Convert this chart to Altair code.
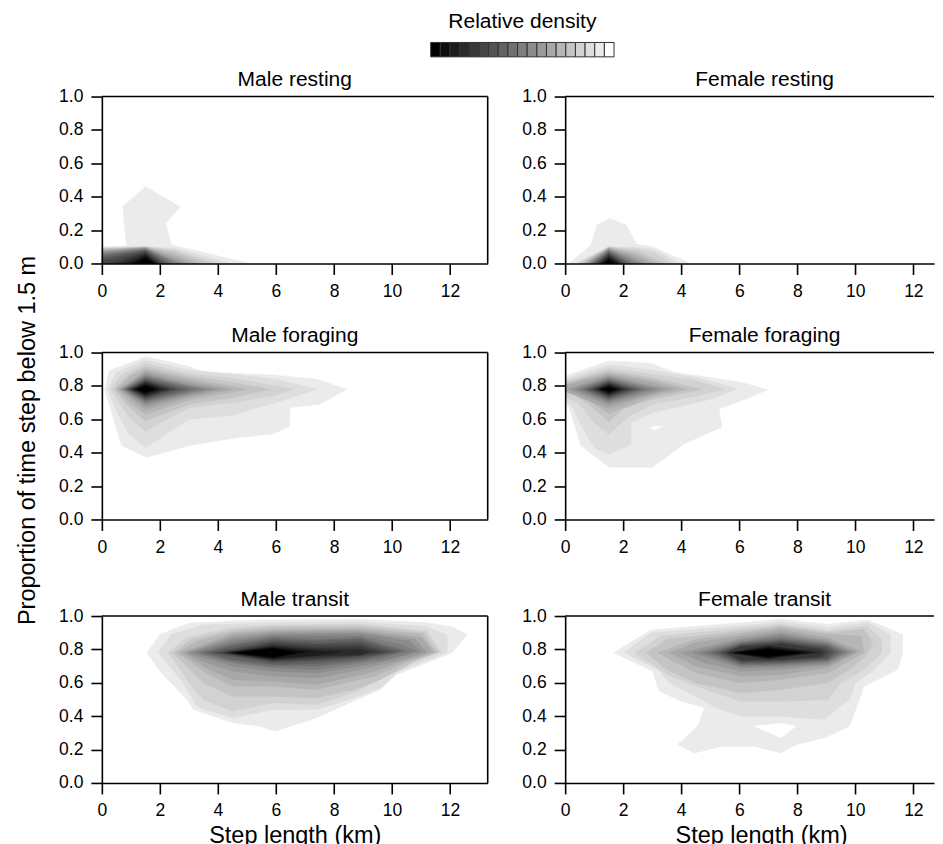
import altair as alt
import pandas as pd

FONT = "Liberation Sans"

# grey levels of the density scale, darkest (highest density) to white
GRAYS = ["#000000", "#0e0e0e", "#1c1c1c", "#2a2a2a", "#383838", "#464646",
         "#545454", "#626262", "#707070", "#7e7e7e", "#8c8c8c", "#9a9a9a",
         "#a8a8a8", "#b6b6b6", "#c4c4c4", "#d2d2d2", "#dedede", "#ebebeb",
         "#ffffff"]

X_TICKS = [0, 2, 4, 6, 8, 10, 12]
Y_TICKS = [0.0, 0.2, 0.4, 0.6, 0.8, 1.0]

TITLES = ["Male resting", "Female resting", "Male foraging",
          "Female foraging", "Male transit", "Female transit"]

# contour polygons: (grey level index, [(step length km, proportion), ...])
MALE_RESTING = [
    (17, [(0, 0), (0, 0.1), (0.85, 0.105), (0.72, 0.34), (1.5, 0.46), (2.7, 0.34),
          (2.2, 0.24), (2.4, 0.11), (3.15, 0.08), (5.1, 0)]),
    (16, [(0, 0), (0, 0.095), (1.5, 0.102), (2.5, 0.09), (3.3, 0.055), (4.4, 0)]),
    (15, [(0, 0), (0, 0.09), (1.5, 0.1), (2.5, 0.08), (3.2, 0.045), (4.0, 0)]),
    (14, [(0, 0), (0, 0.087), (1.5, 0.098), (2.5, 0.07), (3.7, 0)]),
    (13, [(0, 0), (0, 0.083), (1.5, 0.096), (2.4, 0.06), (3.4, 0)]),
    (12, [(0, 0), (0, 0.078), (1.5, 0.094), (2.3, 0.05), (3.15, 0)]),
    (11, [(0, 0), (0, 0.072), (1.5, 0.092), (2.25, 0.042), (2.95, 0)]),
    (10, [(0, 0), (0, 0.066), (1.5, 0.09), (2.2, 0.035), (2.75, 0)]),
    (9, [(0, 0), (0, 0.058), (1.5, 0.087), (2.6, 0)]),
    (8, [(0, 0), (0, 0.05), (1.5, 0.083), (2.45, 0)]),
    (7, [(0, 0), (0, 0.04), (1.5, 0.079), (2.3, 0)]),
    (6, [(0, 0), (0, 0.028), (1.5, 0.074), (2.2, 0)]),
    (5, [(0, 0), (0, 0.012), (1.5, 0.068), (2.1, 0)]),
    (4, [(0.3, 0), (1.5, 0.062), (2.0, 0)]),
    (3, [(0.6, 0), (1.5, 0.055), (1.95, 0)]),
    (2, [(0.85, 0), (1.5, 0.048), (1.9, 0)]),
    (1, [(1.05, 0), (1.5, 0.04), (1.85, 0)]),
    (0, [(1.2, 0), (1.5, 0.03), (1.78, 0)]),
]

FEMALE_RESTING = [
    (17, [(0.14, 0), (0.89, 0.11), (1.1, 0.23), (1.52, 0.27), (2.1, 0.23), (2.47, 0.114),
          (2.96, 0.104), (3.53, 0.06), (4.2, 0.01), (4.2, 0)]),
    (16, [(0.35, 0), (1.5, 0.1), (2.5, 0.095), (3.0, 0.085), (3.5, 0.045), (3.95, 0)]),
    (15, [(0.45, 0), (1.5, 0.098), (2.5, 0.085), (3.1, 0.06), (3.7, 0)]),
    (14, [(0.55, 0), (1.5, 0.096), (2.5, 0.07), (3.45, 0)]),
    (13, [(0.62, 0), (1.5, 0.093), (2.4, 0.06), (3.2, 0)]),
    (12, [(0.7, 0), (1.5, 0.09), (2.3, 0.05), (3.0, 0)]),
    (11, [(0.77, 0), (1.5, 0.087), (2.25, 0.04), (2.8, 0)]),
    (10, [(0.83, 0), (1.5, 0.083), (2.2, 0.03), (2.6, 0)]),
    (9, [(0.89, 0), (1.5, 0.079), (2.45, 0)]),
    (8, [(0.95, 0), (1.5, 0.074), (2.3, 0)]),
    (7, [(1.0, 0), (1.5, 0.068), (2.2, 0)]),
    (6, [(1.05, 0), (1.5, 0.062), (2.1, 0)]),
    (5, [(1.1, 0), (1.5, 0.056), (2.0, 0)]),
    (4, [(1.15, 0), (1.5, 0.05), (1.95, 0)]),
    (3, [(1.2, 0), (1.5, 0.043), (1.9, 0)]),
    (2, [(1.25, 0), (1.5, 0.036), (1.83, 0)]),
    (1, [(1.3, 0), (1.5, 0.028), (1.76, 0)]),
    (0, [(1.36, 0), (1.5, 0.02), (1.68, 0)]),
]

MALE_FORAGING = [
    (17, [(0.1, 0.78), (0.25, 0.89), (1.52, 0.976), (2.92, 0.92), (3.6, 0.88), (5.9, 0.866),
          (7.4, 0.84), (8.44, 0.78), (7.5, 0.69), (6.48, 0.67), (6.46, 0.557), (5.9, 0.513),
          (4.53, 0.487), (3.03, 0.443), (1.54, 0.373), (0.68, 0.443)]),
    (16, [(0.2, 0.78), (0.5, 0.88), (1.5, 0.955), (3.0, 0.895), (4.5, 0.87), (6.0, 0.84),
          (7.4, 0.78), (6.0, 0.7), (4.5, 0.625), (3.0, 0.6), (1.5, 0.43), (0.9, 0.52), (0.5, 0.65)]),
    (15, [(0.3, 0.78), (0.7, 0.87), (1.5, 0.935), (3.0, 0.875), (4.5, 0.845), (6.0, 0.8),
          (6.6, 0.78), (6.0, 0.745), (4.5, 0.7), (3.0, 0.67), (1.5, 0.53), (1.0, 0.6), (0.6, 0.7)]),
    (14, [(0.42, 0.78), (0.9, 0.865), (1.5, 0.915), (3.0, 0.86), (4.5, 0.82), (5.8, 0.78),
          (4.5, 0.73), (3.0, 0.69), (1.5, 0.59), (0.9, 0.68)]),
    (13, [(0.5, 0.78), (1.0, 0.86), (1.5, 0.9), (3.0, 0.845), (5.0, 0.78), (3.0, 0.715),
          (1.5, 0.63), (0.95, 0.7)]),
    (12, [(0.58, 0.78), (1.5, 0.888), (3.0, 0.83), (4.5, 0.78), (3.0, 0.73), (1.5, 0.655)]),
    (11, [(0.64, 0.78), (1.5, 0.876), (3.0, 0.815), (4.1, 0.78), (3.0, 0.743), (1.5, 0.675)]),
    (10, [(0.7, 0.78), (1.5, 0.866), (3.0, 0.8), (3.8, 0.78), (3.0, 0.755), (1.5, 0.69)]),
    (9, [(0.75, 0.78), (1.5, 0.858), (3.5, 0.78), (1.5, 0.7)]),
    (8, [(0.8, 0.78), (1.5, 0.85), (3.2, 0.78), (1.5, 0.708)]),
    (7, [(0.85, 0.78), (1.5, 0.843), (2.95, 0.78), (1.5, 0.716)]),
    (6, [(0.9, 0.78), (1.5, 0.836), (2.7, 0.78), (1.5, 0.723)]),
    (5, [(0.95, 0.78), (1.5, 0.829), (2.5, 0.78), (1.5, 0.73)]),
    (4, [(1.0, 0.78), (1.5, 0.824), (2.35, 0.78), (1.5, 0.735)]),
    (3, [(1.05, 0.78), (1.5, 0.819), (2.2, 0.78), (1.5, 0.741)]),
    (2, [(1.1, 0.78), (1.5, 0.813), (2.05, 0.78), (1.5, 0.747)]),
    (1, [(1.16, 0.78), (1.5, 0.806), (1.93, 0.78), (1.5, 0.754)]),
    (0, [(1.23, 0.78), (1.5, 0.798), (1.8, 0.78), (1.5, 0.762)]),
]

FEMALE_FORAGING = [
    (17, [(0, 0.86), (1.52, 0.949), (2.96, 0.936), (3.76, 0.882), (6.06, 0.822), (6.98, 0.777),
          (6.06, 0.71), (5.3, 0.663), (5.4, 0.553), (4.1, 0.453), (3.01, 0.313), (1.52, 0.313),
          (0.54, 0.443), (0.14, 0.67), (0, 0.69)]),
    (18, [(2.95, 0.552), (3.35, 0.56), (3.05, 0.535)]),
    (16, [(0, 0.845), (1.5, 0.925), (3.0, 0.895), (4.5, 0.85), (5.95, 0.785), (5.0, 0.72),
          (4.0, 0.68), (3.0, 0.64), (2.27, 0.58), (2.27, 0.45), (1.5, 0.39), (1.0, 0.43),
          (0.6, 0.55), (0.2, 0.69), (0, 0.71)]),
    (15, [(0, 0.83), (1.5, 0.905), (3.0, 0.87), (4.5, 0.83), (5.5, 0.78), (4.5, 0.74),
          (3.0, 0.69), (2.2, 0.62), (1.5, 0.51), (1.0, 0.58), (0.45, 0.7), (0, 0.735)]),
    (14, [(0, 0.82), (1.5, 0.89), (3.0, 0.85), (4.7, 0.78), (3.0, 0.72), (2.0, 0.665),
          (1.5, 0.585), (0.9, 0.68), (0.3, 0.75), (0, 0.755)]),
    (13, [(0, 0.81), (1.5, 0.878), (3.0, 0.835), (4.2, 0.78), (3.0, 0.735), (1.5, 0.635),
          (0.6, 0.74), (0, 0.765)]),
    (12, [(0, 0.8), (1.5, 0.868), (3.0, 0.82), (3.8, 0.78), (3.0, 0.75), (1.5, 0.665), (0, 0.77)]),
    (11, [(0.1, 0.78), (1.5, 0.86), (3.5, 0.78), (1.5, 0.685)]),
    (10, [(0.3, 0.78), (1.5, 0.852), (3.2, 0.78), (1.5, 0.698)]),
    (9, [(0.45, 0.78), (1.5, 0.845), (2.95, 0.78), (1.5, 0.708)]),
    (8, [(0.6, 0.78), (1.5, 0.838), (2.75, 0.78), (1.5, 0.716)]),
    (7, [(0.72, 0.78), (1.5, 0.831), (2.55, 0.78), (1.5, 0.724)]),
    (6, [(0.82, 0.78), (1.5, 0.825), (2.4, 0.78), (1.5, 0.73)]),
    (5, [(0.92, 0.78), (1.5, 0.82), (2.25, 0.78), (1.5, 0.736)]),
    (4, [(1.0, 0.78), (1.5, 0.815), (2.12, 0.78), (1.5, 0.742)]),
    (3, [(1.07, 0.78), (1.5, 0.81), (2.02, 0.78), (1.5, 0.748)]),
    (2, [(1.14, 0.78), (1.5, 0.804), (1.92, 0.78), (1.5, 0.754)]),
    (1, [(1.21, 0.78), (1.5, 0.797), (1.83, 0.78), (1.5, 0.761)]),
    (0, [(1.28, 0.78), (1.5, 0.79), (1.73, 0.78), (1.5, 0.768)]),
]

MALE_TRANSIT = [
    (17, [(1.56, 0.78), (2.0, 0.89), (3.03, 0.958), (5.45, 0.976), (8.9, 0.98), (11.2, 0.96),
          (12.06, 0.936), (12.6, 0.89), (12.06, 0.78), (11.2, 0.72), (10.16, 0.65), (9.6, 0.56),
          (8.67, 0.49), (7.4, 0.39), (5.97, 0.31), (5.45, 0.34), (4.53, 0.36), (3.15, 0.44),
          (2.98, 0.49), (2.0, 0.67)]),
    (16, [(1.95, 0.78), (2.4, 0.89), (3.5, 0.945), (5.9, 0.96), (8.9, 0.965), (11.2, 0.935),
          (11.9, 0.885), (11.9, 0.78), (11.2, 0.735), (10.2, 0.665), (9.6, 0.57), (8.7, 0.51),
          (7.4, 0.44), (5.9, 0.44), (4.5, 0.39), (3.3, 0.455), (2.8, 0.6)]),
    (15, [(2.3, 0.78), (2.9, 0.87), (4.5, 0.93), (5.9, 0.945), (8.9, 0.95), (11.2, 0.91),
          (11.7, 0.785), (10.9, 0.74), (9.8, 0.64), (8.8, 0.55), (7.4, 0.47), (5.9, 0.48),
          (4.5, 0.43), (3.5, 0.5), (3.1, 0.58)]),
    (14, [(2.45, 0.78), (3.1, 0.86), (4.5, 0.915), (5.9, 0.935), (8.9, 0.94), (11.1, 0.9),
          (11.6, 0.785), (10.8, 0.73), (9.6, 0.62), (8.7, 0.56), (7.4, 0.51), (5.9, 0.52),
          (4.5, 0.52), (3.5, 0.6)]),
    (13, [(2.6, 0.78), (3.3, 0.85), (4.5, 0.9), (5.9, 0.92), (8.9, 0.925), (11.0, 0.89),
          (11.5, 0.785), (10.6, 0.73), (9.4, 0.64), (7.4, 0.56), (5.9, 0.58), (4.5, 0.58),
          (3.6, 0.66)]),
    (12, [(2.75, 0.78), (4.5, 0.89), (5.9, 0.91), (8.9, 0.915), (11.0, 0.87), (11.4, 0.785),
          (10.4, 0.73), (9.2, 0.66), (7.4, 0.59), (5.9, 0.61), (4.5, 0.62), (3.6, 0.69)]),
    (11, [(2.9, 0.78), (4.5, 0.875), (5.9, 0.9), (8.9, 0.905), (10.8, 0.86), (11.2, 0.785),
          (10.2, 0.73), (8.9, 0.68), (7.4, 0.63), (5.9, 0.64), (4.5, 0.67), (3.6, 0.72)]),
    (10, [(3.0, 0.78), (4.5, 0.86), (5.9, 0.89), (8.9, 0.895), (10.6, 0.85), (11.0, 0.79),
          (10.0, 0.74), (8.9, 0.7), (7.4, 0.66), (5.9, 0.67), (4.5, 0.7)]),
    (9, [(3.2, 0.78), (4.5, 0.845), (5.9, 0.88), (8.9, 0.88), (10.3, 0.83), (10.8, 0.79),
         (9.8, 0.74), (8.9, 0.72), (7.4, 0.68), (5.9, 0.69), (4.5, 0.72)]),
    (8, [(3.4, 0.78), (4.5, 0.83), (5.9, 0.87), (7.4, 0.86), (8.9, 0.87), (10.5, 0.79),
         (9.6, 0.75), (8.9, 0.73), (7.4, 0.7), (5.9, 0.7), (4.5, 0.73)]),
    (7, [(3.6, 0.78), (4.5, 0.82), (5.9, 0.86), (7.4, 0.85), (8.9, 0.86), (10.3, 0.79),
         (8.9, 0.74), (7.4, 0.715), (5.9, 0.71), (4.5, 0.74)]),
    (6, [(3.8, 0.78), (5.9, 0.85), (7.4, 0.835), (8.9, 0.845), (10.1, 0.785), (8.9, 0.75),
         (7.4, 0.73), (5.9, 0.72)]),
    (5, [(4.0, 0.78), (5.9, 0.84), (7.4, 0.825), (8.9, 0.83), (9.8, 0.785), (8.9, 0.76),
         (7.4, 0.74), (5.9, 0.73)]),
    (4, [(4.2, 0.78), (5.9, 0.83), (7.4, 0.81), (8.9, 0.815), (9.5, 0.785), (8.9, 0.765),
         (7.4, 0.75), (5.9, 0.735)]),
    (3, [(4.3, 0.78), (5.9, 0.82), (7.4, 0.8), (8.9, 0.8), (9.2, 0.785), (8.9, 0.77),
         (7.4, 0.76), (5.9, 0.74)]),
    (2, [(4.4, 0.78), (5.9, 0.815), (7.4, 0.79), (8.2, 0.785), (7.4, 0.765), (5.9, 0.745)]),
    (1, [(4.5, 0.78), (5.9, 0.81), (7.0, 0.785), (5.9, 0.75)]),
    (0, [(4.7, 0.78), (5.9, 0.805), (6.7, 0.78), (5.9, 0.755)]),
]

FEMALE_TRANSIT = [
    (17, [(1.67, 0.78), (2.96, 0.916), (6.06, 0.96), (7.44, 0.98), (9.05, 0.95), (10.43, 0.976),
          (11.63, 0.89), (11.63, 0.78), (11.46, 0.68), (10.3, 0.58), (9.8, 0.34), (8.93, 0.27),
          (7.96, 0.23), (7.44, 0.18), (6.52, 0.22), (5.43, 0.22), (4.45, 0.18), (3.88, 0.23),
          (4.57, 0.34), (4.8, 0.45), (4.0, 0.49), (3.24, 0.55), (3.01, 0.67)]),
    (18, [(6.52, 0.34), (7.44, 0.357), (7.96, 0.34), (7.44, 0.27)]),
    (16, [(2.03, 0.78), (2.96, 0.9), (6.06, 0.94), (7.44, 0.965), (9.05, 0.93), (10.43, 0.96),
          (11.2, 0.89), (11.2, 0.78), (10.6, 0.67), (10.0, 0.6), (9.8, 0.5), (9.4, 0.45),
          (8.93, 0.38), (7.44, 0.4), (6.06, 0.4), (5.2, 0.45), (4.7, 0.5), (3.6, 0.6), (3.2, 0.68)]),
    (15, [(2.4, 0.78), (3.3, 0.88), (6.06, 0.925), (7.44, 0.95), (9.05, 0.91), (10.4, 0.94),
          (10.9, 0.86), (10.9, 0.78), (10.3, 0.68), (9.5, 0.6), (9.05, 0.5), (7.44, 0.49),
          (6.06, 0.49), (5.0, 0.55), (3.6, 0.64)]),
    (14, [(2.8, 0.78), (3.5, 0.86), (6.06, 0.91), (7.44, 0.94), (9.05, 0.9), (10.3, 0.92),
          (10.6, 0.84), (10.4, 0.77), (9.8, 0.68), (9.05, 0.6), (7.44, 0.56), (6.06, 0.54),
          (4.5, 0.6), (3.5, 0.68)]),
    (13, [(3.2, 0.78), (4.5, 0.86), (6.06, 0.895), (7.44, 0.93), (9.05, 0.89), (10.2, 0.88),
          (10.3, 0.78), (9.05, 0.66), (7.44, 0.62), (6.06, 0.6), (4.5, 0.66)]),
    (12, [(3.6, 0.78), (4.5, 0.84), (6.06, 0.88), (7.44, 0.915), (9.05, 0.87), (10.15, 0.79),
          (9.05, 0.69), (7.44, 0.65), (6.06, 0.64), (4.5, 0.7)]),
    (11, [(4.0, 0.78), (6.06, 0.865), (7.44, 0.9), (9.05, 0.855), (10.0, 0.785), (9.05, 0.705),
          (7.44, 0.68), (6.06, 0.67), (4.8, 0.72)]),
    (10, [(4.4, 0.78), (6.06, 0.855), (7.44, 0.888), (9.05, 0.845), (9.85, 0.785), (9.05, 0.715),
          (7.44, 0.695), (6.06, 0.69)]),
    (9, [(4.7, 0.78), (6.06, 0.845), (7.44, 0.875), (9.05, 0.835), (9.7, 0.785), (9.05, 0.725),
         (7.44, 0.705), (6.06, 0.7)]),
    (8, [(4.95, 0.78), (6.06, 0.838), (7.44, 0.865), (9.05, 0.828), (9.55, 0.785), (9.05, 0.732),
         (7.44, 0.713), (6.06, 0.708)]),
    (7, [(5.15, 0.78), (6.06, 0.832), (7.44, 0.855), (9.05, 0.82), (9.4, 0.785), (9.05, 0.74),
         (7.44, 0.72), (6.06, 0.716)]),
    (6, [(5.3, 0.78), (6.06, 0.826), (7.44, 0.847), (9.0, 0.813), (9.25, 0.785), (9.0, 0.746),
         (7.44, 0.727), (6.06, 0.723)]),
    (5, [(5.45, 0.78), (6.06, 0.82), (7.44, 0.84), (8.9, 0.806), (9.1, 0.783), (8.9, 0.752),
         (7.44, 0.733), (6.06, 0.73)]),
    (4, [(5.55, 0.78), (6.06, 0.815), (7.44, 0.832), (8.8, 0.8), (8.95, 0.782), (8.8, 0.758),
         (7.44, 0.739), (6.06, 0.736)]),
    (3, [(5.65, 0.78), (7.0, 0.822), (8.8, 0.783), (7.0, 0.742)]),
    (2, [(5.75, 0.78), (7.0, 0.815), (8.6, 0.782), (7.0, 0.748)]),
    (1, [(5.85, 0.78), (7.0, 0.808), (8.35, 0.781), (7.0, 0.753)]),
    (0, [(5.95, 0.78), (7.0, 0.8), (8.1, 0.78), (7.0, 0.758)]),
]

PANEL_H = 167
LEFT_W = 386
RIGHT_W = 369
PX_PER_KM = 29.03

AXIS_COMMON = dict(
    labelFont=FONT, labelFontSize=17.5, labelColor="black",
    tickColor="black", tickSize=11, tickWidth=1.6,
    domainColor="black", domainWidth=1.6, labelPadding=8, grid=False,
    titleFont=FONT, titleFontSize=23.5, titleFontWeight="normal", titleColor="black",
    labelFlush=False, labelOverlap=False, zindex=1,
)


def polygon_table(polys):
    rows = []
    for p, (lvl, pts) in enumerate(polys):
        closed = list(pts) + [pts[0]]
        for k, (x, y) in enumerate(closed):
            rows.append({"pid": f"p{p:03d}", "k": k, "x": x, "y": y, "fill": GRAYS[lvl]})
    return pd.DataFrame(rows)


def panel(polys, title, width, x_title=False, right_border=False,
          title_dx=0, x_title_x=None):
    df = polygon_table(polys)
    xmax = width / PX_PER_KM
    x_kw = dict(AXIS_COMMON, values=X_TICKS, format="d", titlePadding=4)
    if x_title_x is not None:
        x_kw["titleX"] = x_title_x
    y_kw = dict(AXIS_COMMON, values=Y_TICKS, format=".1f")
    shapes = alt.Chart(df).mark_line(strokeWidth=0.6, clip=True).encode(
        x=alt.X("x:Q", scale=alt.Scale(domain=[0, xmax], nice=False, zero=False),
                axis=alt.Axis(**x_kw),
                title="Step length (km)" if x_title else None),
        y=alt.Y("y:Q", scale=alt.Scale(domain=[0, 1], nice=False),
                axis=alt.Axis(**y_kw), title=None),
        fill=alt.Fill("fill:N", scale=None),
        stroke=alt.Stroke("fill:N", scale=None),
        detail="pid:N",
        order="k:Q",
    )
    one = alt.Chart(pd.DataFrame({"o": [0]}))
    layers = [shapes,
              one.mark_rule(color="black", strokeWidth=1.6).encode(
                  x=alt.value(0), x2=alt.value(width), y=alt.value(0))]
    if right_border:
        layers.append(one.mark_rule(color="black", strokeWidth=1.6).encode(
            x=alt.value(width), y=alt.value(0), y2=alt.value(PANEL_H)))
    return alt.layer(*layers).properties(
        width=width, height=PANEL_H,
        title=alt.TitleParams(title, font=FONT, fontSize=21, fontWeight="normal",
                              color="black", frame="group", baseline="alphabetic",
                              offset=-19.8, anchor="middle", dx=title_dx),
    )


# legend: relative density scale
leg_df = pd.DataFrame({"i": list(range(len(GRAYS))), "c": GRAYS})
legend_bar = alt.Chart(leg_df).mark_rect(stroke="#333333", strokeWidth=1).encode(
    x=alt.X("i:O", axis=None, scale=alt.Scale(paddingInner=0, paddingOuter=0)),
    fill=alt.Fill("c:N", scale=None),
).properties(
    width=183.4, height=14.4,
    title=alt.TitleParams("Relative density", font=FONT, fontSize=21, fontWeight="normal",
                          color="black", frame="group", baseline="alphabetic",
                          offset=-7.5, anchor="middle"),
)
spacer = alt.Chart(pd.DataFrame({"o": [0]})).mark_point(opacity=0, size=1).encode(
    x=alt.value(0), y=alt.value(0)).properties(width=327.6, height=14.4)
legend_row = alt.hconcat(spacer, legend_bar, spacing=0)

# shared y-axis title, in a column of its own
ytitle = alt.Chart(pd.DataFrame({"v": [0.0, 1.0]})).mark_point(opacity=0, size=1).encode(
    x=alt.value(0),
    y=alt.Y("v:Q", axis=alt.Axis(labels=False, ticks=False, domain=False, grid=False,
                                 titleFont=FONT, titleFontSize=23.5, titleFontWeight="normal",
                                 titleColor="black", titlePadding=0, titleY=397.7),
            title="Proportion of time step below 1.5 m",
            scale=alt.Scale(domain=[1, 0])),
).properties(width=1, height=620)

row1 = alt.hconcat(
    panel(MALE_RESTING, TITLES[0], LEFT_W, right_border=True),
    panel(FEMALE_RESTING, TITLES[1], RIGHT_W, title_dx=15),
    spacing=32.5)
row2 = alt.hconcat(
    panel(MALE_FORAGING, TITLES[2], LEFT_W, right_border=True),
    panel(FEMALE_FORAGING, TITLES[3], RIGHT_W, title_dx=15),
    spacing=32.5)
row3 = alt.hconcat(
    panel(MALE_TRANSIT, TITLES[4], LEFT_W, x_title=True, right_border=True),
    panel(FEMALE_TRANSIT, TITLES[5], RIGHT_W, x_title=True, title_dx=15, x_title_x=196),
    spacing=32.5)

top_part = alt.vconcat(legend_row, row1, spacing=11.1)
mid_part = alt.vconcat(top_part, row2, spacing=24.2)
grid = alt.vconcat(mid_part, row3, spacing=31.8)

chart = alt.hconcat(ytitle, grid, spacing=17.5).properties(
    padding={"left": 7.4, "top": 3.3, "right": 0, "bottom": 0}
).configure_view(strokeOpacity=0, strokeWidth=0)

chart.save("out.html", embed_options={"renderer": "svg", "actions": False})
